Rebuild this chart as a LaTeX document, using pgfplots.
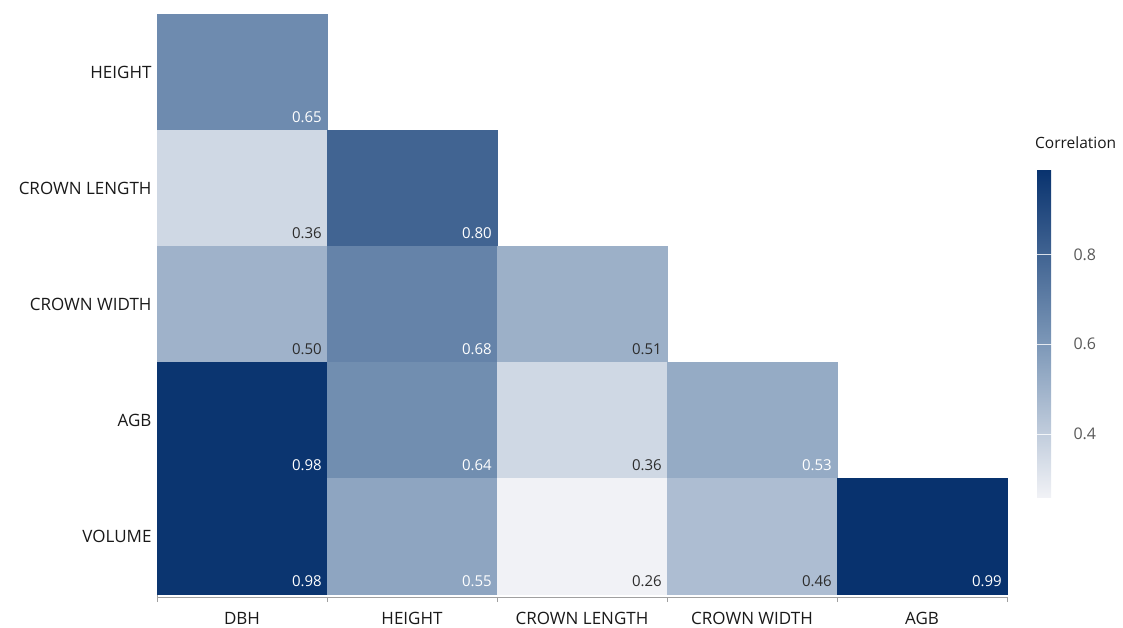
\documentclass[border=0pt]{standalone}
\usepackage{pgfplots}
\pgfplotsset{compat=1.18}
\usepackage{fontspec}
\setmainfont{Open Sans}

\definecolor{labelcol}{RGB}{25,25,25}
\definecolor{darkval}{RGB}{45,45,45}
\definecolor{cbtext}{RGB}{90,90,90}
\definecolor{axcol}{RGB}{160,160,160}

% lower-triangle correlation matrix: column index, row index, value
% columns: DBH, HEIGHT, CROWN LENGTH, CROWN WIDTH, AGB
% rows (top to bottom 4..0): HEIGHT, CROWN LENGTH, CROWN WIDTH, AGB, VOLUME
\pgfplotstableread{
x y v
0 4 0.65
0 3 0.36
1 3 0.80
0 2 0.50
1 2 0.68
2 2 0.51
0 1 0.98
1 1 0.64
2 1 0.36
3 1 0.53
0 0 0.98
1 0 0.55
2 0 0.26
3 0 0.46
4 0 0.99
}\corrtable

\begin{document}
\begin{tikzpicture}
\path[use as bounding box] (0,0) rectangle (1123pt,627pt);
\begin{axis}[
  at={(157pt,30pt)}, anchor=south west,
  scale only axis, width=850pt, height=583pt,
  xmin=-0.5, xmax=4.5, ymin=-0.526, ymax=4.5,
  axis x line*=bottom, axis y line*=left,
  axis line style={draw=axcol, line width=0.8pt},
  xtick={0,...,4},
  xticklabels={DBH, HEIGHT, CROWN LENGTH, CROWN WIDTH, AGB},
  ytick={0,...,4},
  yticklabels={VOLUME, AGB, CROWN WIDTH, CROWN LENGTH, HEIGHT},
  major tick length=0pt,
  minor xtick={-0.5,0.5,...,4.5},
  minor ytick={},
  minor tick length=5pt,
  tick align=outside,
  minor tick style={draw=axcol, line width=0.8pt},
  ticklabel style={font=\fontsize{17}{20}\selectfont, text=labelcol},
  xticklabel style={yshift=-12pt},
  yticklabel style={xshift=-2pt},
  /pgf/number format/assume math mode=true,
  colormap={corr}{rgb255(0cm)=(241,242,246); rgb255(4.66cm)=(125,152,184); rgb255(10cm)=(8,50,110)},
  point meta min=0.26, point meta max=0.99,
  colorbar right,
  colorbar style={
    at={(1.0353,0.734)}, anchor=north west,
    scale only axis, width=20pt, height=328pt,
    axis line style={draw=none},
    ytick={0.4,0.6,0.8},
    yticklabel style={font=\fontsize{16}{18}\selectfont, text=cbtext, xshift=13pt,
      /pgf/number format/fixed, /pgf/number format/precision=1,
      /pgf/number format/assume math mode=true},
    major tick length=20pt, tick align=inside,
    major tick style={draw=white, line width=1.2pt, opacity=0.8},
    title={Correlation},
    title style={at={(0,1)}, anchor=south west, inner sep=0pt, xshift=-2pt, yshift=14pt,
      font=\fontsize{15.5}{18}\selectfont, text=labelcol},
  },
  clip=false,
]
% cells: rectangular marks sized to one cell (170pt x 116pt)
\addplot[scatter, only marks, mark=square*, mark size=58pt,
  every mark/.append style={xscale=1.4655},
  scatter/use mapped color={draw=mapped color, fill=mapped color},
  point meta=\thisrow{v}] table[x=x, y=y] {\corrtable};

% value labels, bottom right of each cell
\addplot[only marks, mark=none,
  nodes near coords, point meta=\thisrow{v},
  nodes near coords style={anchor=south east, inner sep=0pt, xshift=80pt, yshift=-51pt,
    font=\fontsize{15}{18}\selectfont,
    /pgf/number format/fixed, /pgf/number format/precision=2,
    /pgf/number format/fixed zerofill, /pgf/number format/assume math mode=true},
  nodes near coords={\pgfmathfloatparsenumber{\pgfplotspointmeta}\pgfmathfloattofixed{\pgfmathresult}%
    \ifdim\pgfmathresult pt<0.52pt\color{darkval}\else\color{white}\fi
    \pgfmathprintnumber{\pgfplotspointmeta}},
] table[x=x, y=y] {\corrtable};
\end{axis}
\end{tikzpicture}
\end{document}
